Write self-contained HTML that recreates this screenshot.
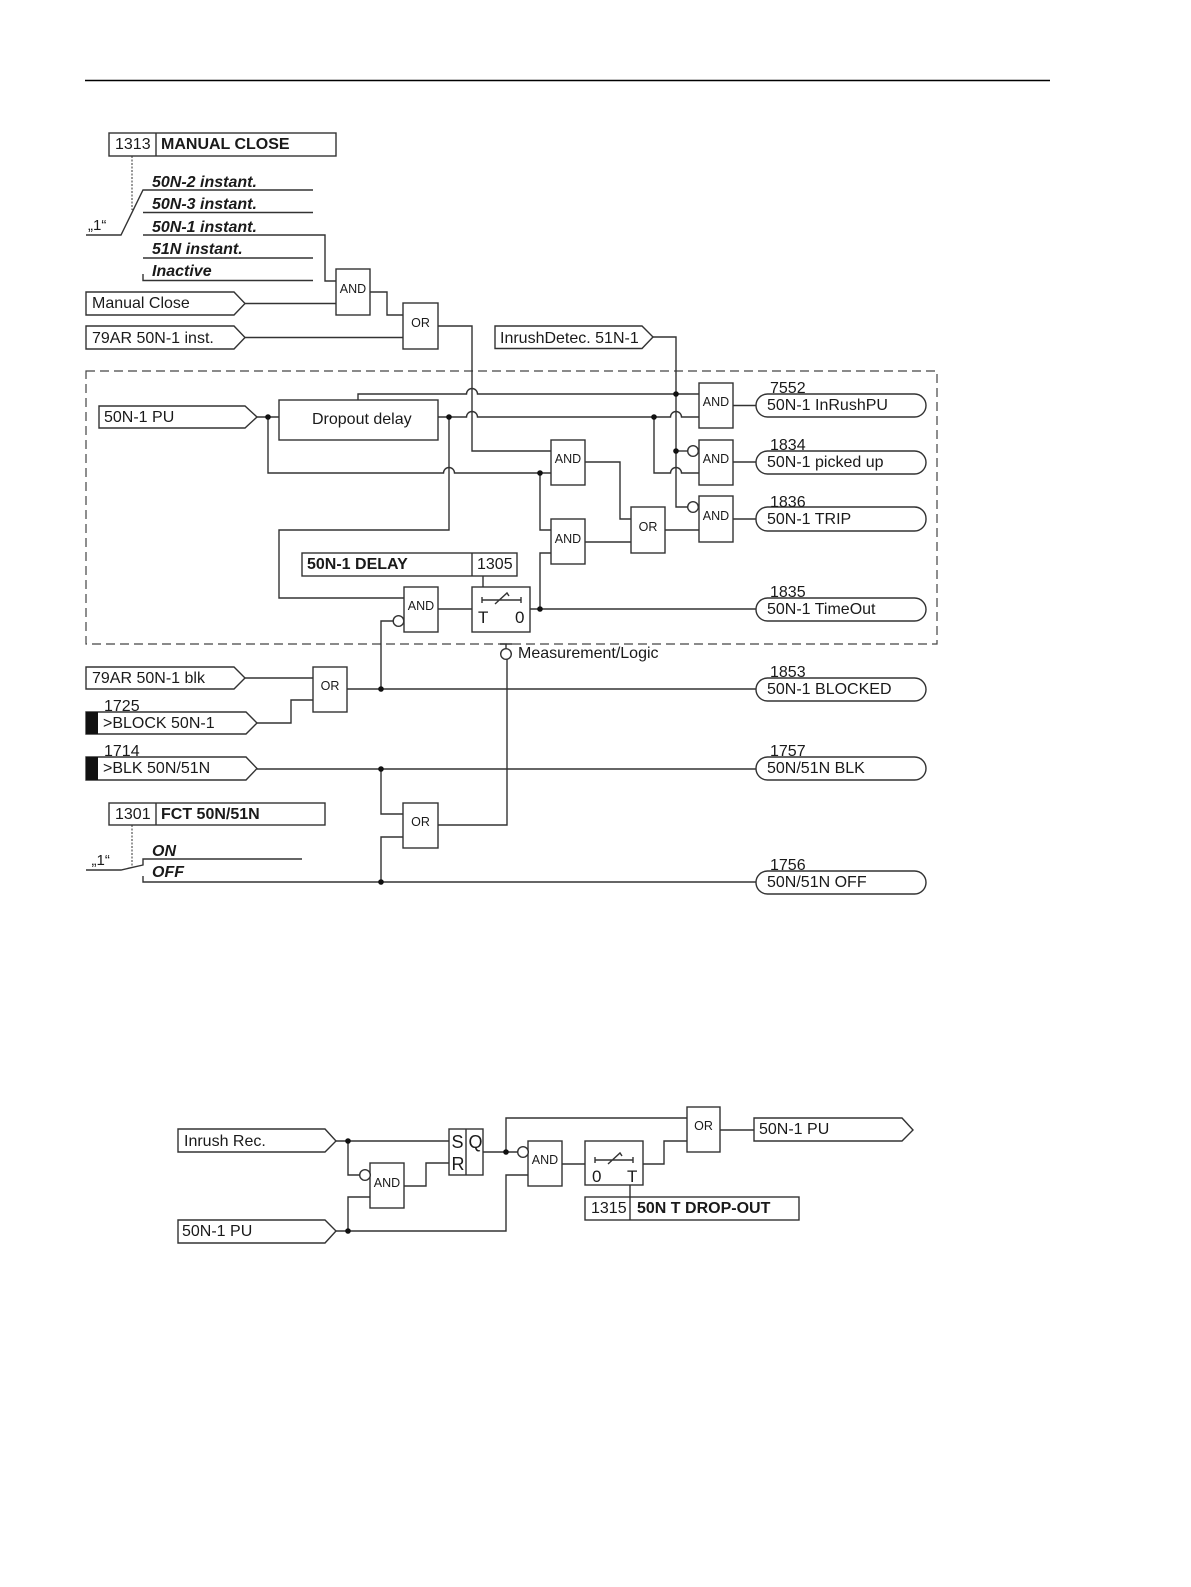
<!DOCTYPE html>
<html><head><meta charset="utf-8"><style>
html,body{margin:0;padding:0;background:#fff;width:1191px;height:1587px;overflow:hidden}
svg{display:block}
text{font-family:"Liberation Sans",sans-serif;font-size:16px;fill:#1a1a1a}
.b{font-weight:bold}.bi{font-weight:bold;font-style:italic}
.g{font-size:12.5px;text-anchor:middle}
.s{fill:#fff;stroke:#333;stroke-width:1.4}
.w{fill:none;stroke:#333;stroke-width:1.4}
</style></head><body>
<svg width="1191" height="1587" viewBox="0 0 1191 1587" xmlns="http://www.w3.org/2000/svg">
<line x1="85" y1="80.500" x2="1050" y2="80.500" stroke="#000" stroke-width="1.400"/>
<rect x="86" y="371" width="851" height="273" fill="none" stroke="#444" stroke-width="1.2" stroke-dasharray="9 5"/>

<!-- wires -->
<path class="w" d="M86 235H121L143 190H313M143 212.500H313M143 235H325V281H336M143 258H313M143 274V280.500H313"/>
<path d="M132 156V210M132 825V868" fill="none" stroke="#333" stroke-width="1" stroke-dasharray="2 1.500"/>
<path class="w" d="M245 303.500H336M370 292H387V315H403M245 337.500H403M438 326H472V451H551"/>
<path class="w" d="M653 337H676V507H688"/>
<path class="w" d="M358 400V394H466.500A5.500 5.500 0 0 1 477.500 394H699"/>
<path class="w" d="M257 417H279M438 417H466.500A5.500 5.500 0 0 1 477.500 417H670.500A5.500 5.500 0 0 1 681.500 417H699"/>
<path class="w" d="M268 417V473H443.500A5.500 5.500 0 0 1 454.500 473H551"/>
<path class="w" d="M449 417V530H279V598H404"/>
<path class="w" d="M654 417V473H670.500A5.500 5.500 0 0 1 681.500 473H699"/>
<path class="w" d="M676 451H688"/>
<path class="w" d="M540 473V530H551M551 553H540V609"/>
<path class="w" d="M585 462H620V519H631M585 542H631M665 530H699"/>
<path class="w" d="M733 405.500H756M733 462H756M733 519H756"/>
<path class="w" d="M438 609H472M530 609H756M483 576V587"/>
<path class="w" d="M393 621H381V689"/>
<path class="w" d="M245 678H313M257 723H291V700H313M347 689H756"/>
<path class="w" d="M257 769H756M381 769V814H403M403 837H381V882M438 825H507V659"/>
<path class="w" d="M86 870H121L143 865V859H302M143 876V882H756"/>
<path class="w" d="M500 644H512M506 644V649"/>

<!-- bottom wires -->
<path class="w" d="M336 1141H449M348 1141V1175H360M370 1197H348V1231M336 1231H506V1175H528M404 1186H426V1163H449M483 1152H518M506 1152V1118H687M562 1164H585M643 1164H664V1141H687M720 1130H754M630 1185V1197"/>

<!-- dots -->
<g fill="#111">
<circle cx="268" cy="417" r="2.800"/><circle cx="449" cy="417" r="2.800"/><circle cx="654" cy="417" r="2.800"/>
<circle cx="676" cy="394" r="2.800"/><circle cx="676" cy="451" r="2.800"/><circle cx="540" cy="473" r="2.800"/>
<circle cx="540" cy="609" r="2.800"/><circle cx="381" cy="689" r="2.800"/><circle cx="381" cy="769" r="2.800"/>
<circle cx="381" cy="882" r="2.800"/><circle cx="348" cy="1141" r="2.800"/><circle cx="348" cy="1231" r="2.800"/>
<circle cx="506" cy="1152" r="2.800"/>
</g>

<!-- parameter boxes -->
<rect class="s" x="109" y="133" width="227" height="23"/><line class="w" x1="156" y1="133" x2="156" y2="156"/>
<text x="115" y="149">1313</text><text class="b" x="161" y="149">MANUAL CLOSE</text>
<rect class="s" x="109" y="803" width="216" height="22"/><line class="w" x1="156" y1="803" x2="156" y2="825"/>
<text x="115" y="819">1301</text><text class="b" x="161" y="819">FCT 50N/51N</text>
<rect class="s" x="302" y="553" width="215" height="23"/><line class="w" x1="472" y1="553" x2="472" y2="576"/>
<text class="b" x="307" y="569">50N-1 DELAY</text><text x="477" y="569">1305</text>
<rect class="s" x="585" y="1197" width="214" height="23"/><line class="w" x1="630" y1="1197" x2="630" y2="1220"/>
<text x="591" y="1213">1315</text><text class="b" x="637" y="1213">50N T DROP-OUT</text>

<!-- switch labels -->
<text x="88" y="230" style="font-size:15px">„1“</text>
<text x="91.500" y="865" style="font-size:15px">„1“</text>
<text class="bi" x="152" y="187">50N-2 instant.</text>
<text class="bi" x="152" y="209">50N-3 instant.</text>
<text class="bi" x="152" y="232">50N-1 instant.</text>
<text class="bi" x="152" y="254">51N instant.</text>
<text class="bi" x="152" y="276">Inactive</text>
<text class="bi" x="152" y="856">ON</text>
<text class="bi" x="152" y="877">OFF</text>

<!-- input pentagons -->
<path class="s" d="M86 292H234L245 303.500L234 315H86Z"/><text x="92" y="308">Manual Close</text>
<path class="s" d="M86 326H234L245 337.500L234 349H86Z"/><text x="92" y="343">79AR 50N-1 inst.</text>
<path class="s" d="M495 326H642L653 337L642 348.500H495Z"/><text x="500" y="343">InrushDetec. 51N-1</text>
<path class="s" d="M99 406H245L257 417L245 428H99Z"/><text x="104" y="422">50N-1 PU</text>
<path class="s" d="M86 667H234L245 678L234 689H86Z"/><text x="92" y="683">79AR 50N-1 blk</text>
<path class="s" d="M86 712H246L257 723L246 734H86Z"/><rect x="86" y="712" width="12" height="22" fill="#111"/><text x="103" y="728">&gt;BLOCK 50N-1</text>
<path class="s" d="M86 757H246L257 768.500L246 780H86Z"/><rect x="86" y="757" width="12" height="23" fill="#111"/><text x="103" y="773">&gt;BLK 50N/51N</text>
<path class="s" d="M178 1129H325L336 1141L325 1152H178Z"/><text x="184" y="1146">Inrush Rec.</text>
<path class="s" d="M178 1220H325L336 1231L325 1243H178Z"/><text x="182" y="1236">50N-1 PU</text>
<path class="s" d="M754 1118H902L913 1130L902 1141H754Z"/><text x="759" y="1134">50N-1 PU</text>
<text x="104" y="711">1725</text><text x="104" y="756">1714</text>

<!-- dropout -->
<rect class="s" x="279" y="400" width="159" height="40"/><text x="312" y="424">Dropout delay</text>

<!-- gates -->
<g>
<rect class="s" x="336" y="269" width="34" height="46"/><text class="g" x="353" y="293">AND</text>
<rect class="s" x="403" y="303" width="35" height="46"/><text class="g" x="420.500" y="327">OR</text>
<rect class="s" x="699" y="383" width="34" height="45"/><text class="g" x="716" y="406">AND</text>
<rect class="s" x="699" y="440" width="34" height="45"/><text class="g" x="716" y="463">AND</text>
<rect class="s" x="699" y="496" width="34" height="46"/><text class="g" x="716" y="520">AND</text>
<rect class="s" x="551" y="440" width="34" height="45"/><text class="g" x="568" y="463">AND</text>
<rect class="s" x="551" y="519" width="34" height="45"/><text class="g" x="568" y="543">AND</text>
<rect class="s" x="631" y="507" width="34" height="46"/><text class="g" x="648" y="531">OR</text>
<rect class="s" x="404" y="587" width="34" height="45"/><text class="g" x="421" y="610">AND</text>
<rect class="s" x="313" y="667" width="34" height="45"/><text class="g" x="330" y="690">OR</text>
<rect class="s" x="403" y="803" width="35" height="45"/><text class="g" x="420.500" y="826">OR</text>
<rect class="s" x="370" y="1163" width="34" height="45"/><text class="g" x="387" y="1187">AND</text>
<rect class="s" x="528" y="1141" width="34" height="45"/><text class="g" x="545" y="1164">AND</text>
<rect class="s" x="687" y="1107" width="33" height="45"/><text class="g" x="703.500" y="1130">OR</text>
</g>

<!-- bubbles -->
<circle class="s" cx="693" cy="451" r="5.300"/><circle class="s" cx="693" cy="507" r="5.300"/>
<circle class="s" cx="398.500" cy="621" r="5.300"/><circle class="s" cx="506" cy="654" r="5.300"/>
<circle class="s" cx="365" cy="1175" r="5.300"/><circle class="s" cx="523" cy="1152" r="5.300"/>
<text x="518" y="658">Measurement/Logic</text>

<!-- timers -->
<rect class="s" x="472" y="587" width="58" height="45"/>
<path class="w" d="M482 597V603M482 600H521M521 597V603M495 604L507 593L509 596"/>
<text x="478" y="623" style="font-size:17px">T</text><text x="515" y="623" style="font-size:17px">0</text>
<rect class="s" x="585" y="1141" width="58" height="44"/>
<path class="w" d="M595 1157V1163M595 1160H633M633 1157V1163M608 1164L620 1153L622 1156"/>
<text x="592" y="1182" style="font-size:17px">0</text><text x="627" y="1182" style="font-size:17px">T</text>

<!-- SR -->
<rect class="s" x="449" y="1129" width="34" height="46"/><line class="w" x1="466" y1="1129" x2="466" y2="1175"/>
<text x="451.500" y="1148" style="font-size:18px">S</text><text x="451.500" y="1170" style="font-size:18px">R</text><text x="468.500" y="1148" style="font-size:18px">Q</text>

<!-- terminators -->
<rect class="s" x="756" y="394" width="170" height="23" rx="11.500"/><text x="767" y="410">50N-1 InRushPU</text><text x="770" y="393">7552</text>
<rect class="s" x="756" y="451" width="170" height="23" rx="11.500"/><text x="767" y="467">50N-1 picked up</text><text x="770" y="450">1834</text>
<rect class="s" x="756" y="507" width="170" height="24" rx="11.500"/><text x="767" y="524">50N-1 TRIP</text><text x="770" y="507">1836</text>
<rect class="s" x="756" y="598" width="170" height="23" rx="11.500"/><text x="767" y="614">50N-1 TimeOut</text><text x="770" y="597">1835</text>
<rect class="s" x="756" y="678" width="170" height="23" rx="11.500"/><text x="767" y="694">50N-1 BLOCKED</text><text x="770" y="677">1853</text>
<rect class="s" x="756" y="757" width="170" height="23" rx="11.500"/><text x="767" y="773">50N/51N BLK</text><text x="770" y="756">1757</text>
<rect class="s" x="756" y="871" width="170" height="23" rx="11.500"/><text x="767" y="887">50N/51N OFF</text><text x="770" y="870">1756</text>
</svg>
</body></html>
